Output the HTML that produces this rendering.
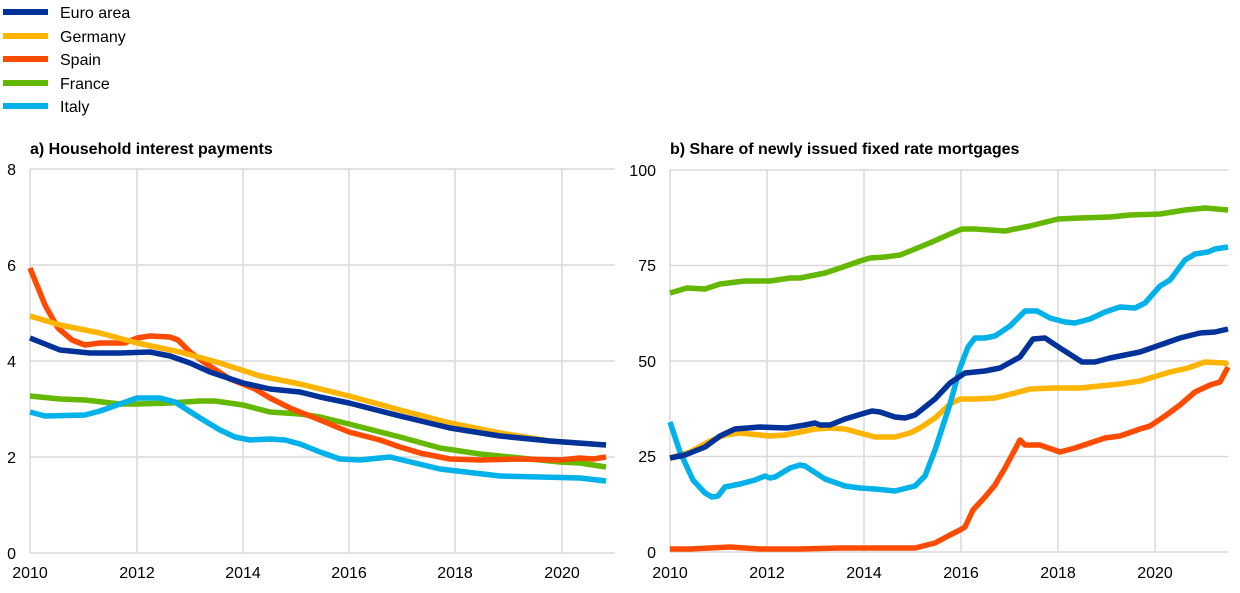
<!DOCTYPE html>
<html><head><meta charset="utf-8"><style>
body{margin:0;background:#fff;width:1240px;height:588px;overflow:hidden}
svg text{font-family:"Liberation Sans",Arial,sans-serif;fill:#000}
</style></head><body>
<svg width="1240" height="588" viewBox="0 0 1240 588">
<g stroke-width="6" stroke-linecap="butt">
<line x1="3" y1="12" x2="48" y2="12" stroke="#003299"/>
<line x1="3" y1="36" x2="48" y2="36" stroke="#ffb400"/>
<line x1="3" y1="59" x2="48" y2="59" stroke="#ff4b00"/>
<line x1="3" y1="83" x2="48" y2="83" stroke="#65b800"/>
<line x1="3" y1="106" x2="48" y2="106" stroke="#00b1ea"/>
</g>
<g font-size="16">
<text x="60" y="18">Euro area</text>
<text x="60" y="42">Germany</text>
<text x="60" y="65">Spain</text>
<text x="60" y="89">France</text>
<text x="60" y="112">Italy</text>
</g>
<g font-size="16" font-weight="bold">
<text x="30" y="154">a) Household interest payments</text>
<text x="670" y="154">b) Share of newly issued fixed rate mortgages</text>
</g>
<g stroke="#d9d9d9" stroke-width="1.5" fill="none">
<path d="M30 169H615M30 265H615M30 361H615M30 457H615M30 553H615"/>
<path d="M30 169V553M137 169V553M243 169V553M349 169V553M455 169V553M562 169V553"/>
<path d="M670 170H1228M670 265.5H1228M670 361H1228M670 456.5H1228M670 552H1228"/>
<path d="M670 170V552M767 170V552M864 170V552M961 170V552M1058 170V552M1155 170V552"/>
</g>
<g font-size="16" text-anchor="end">
<text x="16" y="175">8</text><text x="16" y="271">6</text><text x="16" y="367">4</text><text x="16" y="463">2</text><text x="16" y="559">0</text>
<text x="656" y="176">100</text><text x="656" y="271">75</text><text x="656" y="367">50</text><text x="656" y="462">25</text><text x="656" y="558">0</text>
</g>
<g font-size="16" text-anchor="middle">
<text x="30" y="578">2010</text><text x="137" y="578">2012</text><text x="243" y="578">2014</text><text x="349" y="578">2016</text><text x="455" y="578">2018</text><text x="562" y="578">2020</text>
<text x="670" y="578">2010</text><text x="767" y="578">2012</text><text x="864" y="578">2014</text><text x="961" y="578">2016</text><text x="1058" y="578">2018</text><text x="1155" y="578">2020</text>
</g>
<g fill="none" stroke-width="5.5" stroke-linejoin="round">
<polyline stroke="#65b800" points="30,396 60,399 85,400 120,404 137,404 170,403 200,401 215,401 243,405 270,412 300,414 320,417 349,424 400,437 440,448 480,454 530,459 560,462 580,463 606,467"/>
<polyline stroke="#00b1ea" points="30,412 45,416 85,415 100,411 120,404 137,398 160,398 175,402 200,418 220,430 235,437 250,440 270,439 285,440 300,444 320,452 340,459 360,460 390,457 440,469 500,476 540,477 580,478 606,481"/>
<polyline stroke="#ff4b00" points="30,268 45,305 58,328 72,340 85,345 100,343 125,343 137,338 150,336 170,337 178,340 190,352 205,363 230,379 255,389 270,398 290,408 320,420 349,432 380,440 400,447 420,453 450,459 480,460 520,459 560,460 580,458 593,459 606,457"/>
<polyline stroke="#ffb400" points="30,316 60,325 100,333 137,343 180,352 220,363 260,376 300,384 349,396 400,410 450,423 500,433 550,441 606,445"/>
<polyline stroke="#003299" points="30,338 60,350 90,353 120,353 150,352 170,356 190,363 210,372 243,383 270,389 300,392 320,397 349,403 400,416 450,428 500,436 550,441 606,445"/>

<polyline stroke="#65b800" points="670,293 687,288 705,289 720,284 745,281 770,281 790,278 800,278 820,274 825,273 843,267 860,261 870,258 885,257 900,255 915,249 932,242 950,234 962,229 975,229 1005,231 1030,226 1058,219 1080,218 1110,217 1130,215 1160,214 1185,210 1205,208 1228,210"/>
<polyline stroke="#ff4b00" points="670,549 690,549 730,547 760,549 800,549 840,548 870,548 915,548 935,543 950,535 960,530 965,527 973,510 985,497 995,485 1005,468 1012,455 1020,440 1025,445 1040,445 1060,452 1075,448 1090,443 1105,438 1120,436 1140,429 1150,426 1165,416 1180,405 1195,392 1210,385 1220,382 1228,367"/>
<polyline stroke="#ffb400" points="670,458 690,452 710,441 725,435 740,433 760,435 770,436 785,435 800,432 815,429 830,428 845,429 860,433 875,437 895,437 910,433 920,428 935,418 950,404 960,399 975,399 995,398 1015,393 1030,389 1055,388 1080,388 1100,386 1120,384 1140,381 1150,378 1170,372 1188,368 1205,362 1225,363 1228,365"/>
<polyline stroke="#00b1ea" points="670,422 680,452 693,480 705,493 712,497 718,496 725,487 740,484 755,480 765,476 770,478 775,477 790,468 800,465 805,466 825,479 845,486 860,488 875,489 895,491 915,486 925,476 935,450 950,404 960,368 968,347 975,338 985,338 995,336 1010,326 1025,311 1037,311 1050,318 1065,322 1075,323 1090,319 1105,312 1120,307 1135,308 1145,303 1160,286 1170,280 1185,260 1195,254 1208,252 1215,249 1228,247"/>
<polyline stroke="#003299" points="670,458 685,455 705,447 720,436 735,429 760,427 787,428 805,425 815,423 820,425 830,425 845,419 865,413 872,411 880,412 895,417 905,418 915,415 935,399 950,383 965,373 985,371 1000,368 1020,357 1033,339 1045,338 1060,348 1082,362 1095,362 1110,358 1125,355 1140,352 1160,345 1180,338 1200,333 1215,332 1228,329"/>
</g>
</svg>
</body></html>
